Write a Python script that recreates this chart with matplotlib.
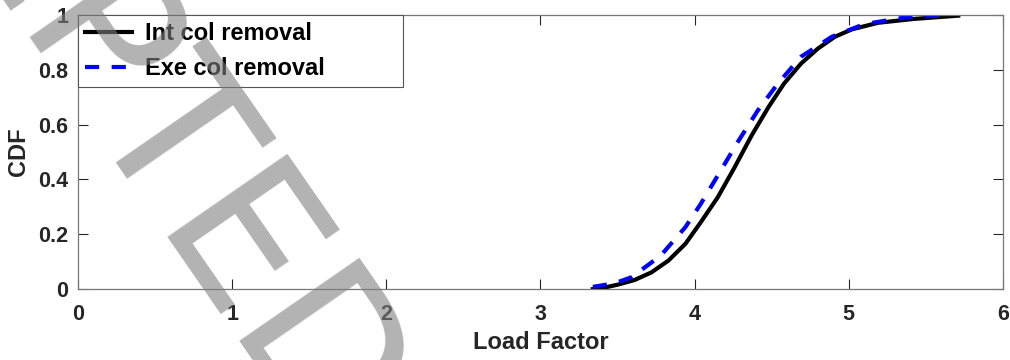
import numpy as np
import matplotlib.pyplot as plt

plt.rcParams['font.family'] = ['Liberation Sans', 'DejaVu Sans']
plt.rcParams['font.weight'] = 'bold'

# CDF del factor de carga, remocion de columna interior
x_int = [3.34, 3.42, 3.50, 3.61, 3.72, 3.83, 3.94, 4.04, 4.15, 4.26, 4.37, 4.48, 4.58,
         4.69, 4.80, 4.91, 5.02, 5.19, 5.42, 5.71]
y_int = [0.0, 0.006, 0.016, 0.033, 0.061, 0.104, 0.165, 0.244, 0.335, 0.445, 0.561, 0.665,
         0.75, 0.823, 0.878, 0.921, 0.948, 0.972, 0.986, 0.998]
# CDF del factor de carga, remocion de columna exterior
x_ext = [3.34, 3.48, 3.59, 3.78, 3.94, 4.04, 4.17, 4.28, 4.41, 4.54, 4.69, 4.89, 5.10,
         5.36, 5.61]
y_ext = [0.008, 0.021, 0.043, 0.122, 0.226, 0.311, 0.433, 0.537, 0.652, 0.75, 0.848,
         0.921, 0.967, 0.991, 0.999]

xticks = [0, 1, 2, 3, 4, 5, 6]
yticks = [0, 0.2, 0.4, 0.6, 0.8, 1]

fig = plt.figure(figsize=(10.1, 3.6), dpi=100)
ax = fig.add_axes([0.0772, 0.197, 0.9158, 0.761])

ax.plot(x_int, y_int, color="black", lw=3, label="Int col removal")
ax.plot(x_ext, y_ext, color="blue", lw=3, dashes=(3.4, 3.0), label="Exe col removal")

ax.set_xlim(0, 6)
ax.set_ylim(0, 1)
ax.set_xticks(xticks)
ax.set_yticks(yticks)
ax.set_xticklabels([str(t) for t in xticks])
ax.set_yticklabels(["0", "0.2", "0.4", "0.6", "0.8", "1"])
ax.tick_params(direction="in", length=7, width=0.8, top=True, right=True,
               labelsize=15.5, colors="#262626")
ax.tick_params(axis="x", pad=11)
ax.tick_params(axis="y", pad=7)
for s in ax.spines.values():
    s.set_color("#777777")
    s.set_linewidth(0.9)

ax.set_xlabel("Load Factor", fontsize=17, fontweight="bold", color="#262626", labelpad=4)
ax.set_ylabel("CDF", fontsize=17, fontweight="bold", color="#262626", labelpad=6)

leg = ax.legend(loc="upper left", bbox_to_anchor=(0, 1, 0.351, 0), mode="expand",
                borderaxespad=0, fontsize=17, handlelength=2.0, handletextpad=0.55,
                fancybox=False, framealpha=1, edgecolor="#555555",
                borderpad=0.3, labelspacing=0.5)
leg.get_frame().set_linewidth(0.8)

# marca de agua
fig.text(0.311, -0.258, "ACCEPTED", fontsize=144, color="gray", alpha=0.6,
         fontweight="normal", family="DejaVu Sans", rotation=-55.3,
         rotation_mode="anchor", ha="right", va="baseline", zorder=10)

plt.savefig("out.png", dpi=100)
